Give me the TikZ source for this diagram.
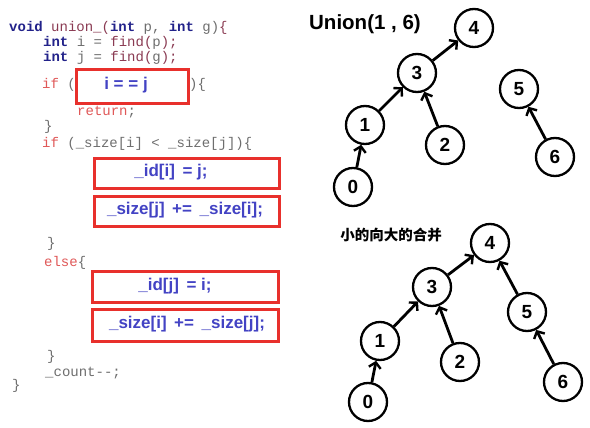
\documentclass[tikz,border=0pt]{standalone}
\usepackage{fontspec}
\setmainfont{Liberation Sans}
\setmonofont{Liberation Mono}
\newfontfamily\cjk{Noto Sans CJK SC}
\usetikzlibrary{arrows.meta}
\definecolor{kw}{HTML}{22228A}
\definecolor{fn}{HTML}{8A3A52}
\definecolor{ctl}{HTML}{E05858}
\definecolor{pl}{HTML}{6E6E6E}
\definecolor{boxred}{HTML}{E8302C}
\definecolor{boxblue}{HTML}{4343C4}
\tikzset{
  code/.style={anchor=base west, inner sep=0pt, font=\ttfamily\fontsize{14}{14}\selectfont, text=pl},
  hbox/.style={draw=boxred, line width=2.8pt, inner sep=0pt, anchor=north west},
  htext/.style={inner sep=0pt, text=boxblue, font=\bfseries\fontsize{17}{17}\selectfont},
  vtx/.style={circle, draw=black, line width=2.3pt, minimum size=38pt, inner sep=0pt, font=\bfseries\fontsize{19}{19}\selectfont},
  edge/.style={line width=2.8pt, -{Straight Barb[length=5.5pt,width=12pt,line width=2.4pt]}},
  title/.style={inner sep=0pt, font=\bfseries\fontsize{20.5}{20.5}\selectfont}
}
\newcommand{\kwd}[1]{\textcolor{kw}{\textbf{#1}}}
\newcommand{\fnc}[1]{\textcolor{fn}{#1}}
\newcommand{\ctl}[1]{\textcolor{ctl}{#1}}
\begin{document}
\begin{tikzpicture}[x=1pt,y=-1pt]
\useasboundingbox[fill=white] (0,0) rectangle (590,428);
% code
\node[code] (l1) at (9,32) {\kwd{void}\ \fnc{union\_(}\kwd{int}\ p,\ \kwd{int}\ g){\fnc{\{}}};
\node[code] (l2) at (43,47) {\kwd{int}\ i\ =\ \fnc{find(}p\fnc{);}};
\node[code] (l3) at (43,62) {\kwd{int}\ j\ =\ \fnc{find(}g\fnc{);}};
\node[code] (l4) at (42,89) {\ctl{if}\ (};
\node[code] (l4b) at (189,89) {)\{};
\node[code] (l5) at (77,116) {\ctl{return};};
\node[code] (l6) at (44,131) {\}};
\node[code] (l7) at (42,147) {\ctl{if}\ (\_size[i]\ <\ \_size[j])\{};
\node[code] (l8) at (47,247) {\}};
\node[code] (l9) at (44,266) {\ctl{else}\{};
\node[code] (l10) at (47,360) {\}};
\node[code] (l11) at (45,376) {\_count--;};
\node[code] (l12) at (12,389) {\}};
% highlight boxes
\node[hbox, minimum width=112pt, minimum height=34pt] (b1) at (75,68) {};
\node[htext] (t1) at (126,85) {i = = j};
\node[hbox, minimum width=185pt, minimum height=30pt] (b2) at (93,157) {};
\node[htext] (t2) at (171,172) {\_id[i]\, = j;};
\node[hbox, minimum width=185pt, minimum height=30pt] (b3) at (93,195) {};
\node[htext] (t3) at (185,210) {\_size[j]\, +=\, \_size[i];};
\node[hbox, minimum width=186pt, minimum height=31pt] (b4) at (91,270) {};
\node[htext] (t4) at (175,286) {\_id[j]\, = i;};
\node[hbox, minimum width=186pt, minimum height=32pt] (b5) at (91,308) {};
\node[htext] (t5) at (187,324) {\_size[i]\, +=\, \_size[j];};
% top graph
\node[title] (ttl) at (365,24) {Union(1 , 6)};
\node[vtx] (a4) at (474,28) {4};
\node[vtx] (a3) at (417,73) {3};
\node[vtx] (a1) at (365,125) {1};
\node[vtx] (a2) at (445,145) {2};
\node[vtx] (a0) at (353,187) {0};
\node[vtx] (a5) at (519,89) {5};
\node[vtx] (a6) at (555,157) {6};
\draw[edge] (a0) -- (a1);
\draw[edge] (a1) -- (a3);
\draw[edge] (a2) -- (a3);
\draw[edge] (a3) -- (a4);
\draw[edge] (a6) -- (a5);
% bottom graph
\node[inner sep=0pt, font=\cjk\bfseries\fontsize{14.5}{14.5}\selectfont] (cap) at (391,235) {小的向大的合并};
\node[vtx] (c4) at (490,243) {4};
\node[vtx] (c3) at (432,287) {3};
\node[vtx] (c1) at (380,341) {1};
\node[vtx] (c2) at (460,362) {2};
\node[vtx] (c0) at (368,402) {0};
\node[vtx] (c5) at (527,312) {5};
\node[vtx] (c6) at (563,382) {6};
\draw[edge] (c0) -- (c1);
\draw[edge] (c1) -- (c3);
\draw[edge] (c2) -- (c3);
\draw[edge] (c3) -- (c4);
\draw[edge] (c5) -- (c4);
\draw[edge] (c6) -- (c5);
\end{tikzpicture}
\end{document}
